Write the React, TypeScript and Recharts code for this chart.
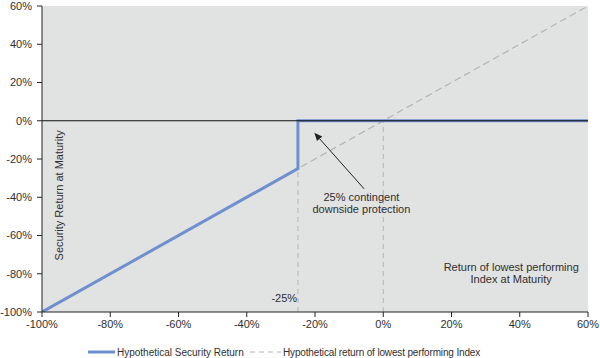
import React from 'react';
import { LineChart, Line, XAxis, YAxis, CartesianGrid, ReferenceLine, ReferenceDot } from 'recharts';

const axisTicks = [-100, -80, -60, -40, -20, 0, 20, 40, 60];

const securityReturn = [
  { x: -100, y: -100 },
  { x: -25, y: -25 },
  { x: -25, y: 0 },
  { x: 60, y: 0 },
];

const indexReturn = [
  { x: -100, y: -100 },
  { x: 60, y: 60 },
];

const barrierLevels = [-25, 0];

const seriesNames = ['Hypothetical Security Return', 'Hypothetical return of lowest performing Index'];

const FONT = '"Liberation Sans", Arial, sans-serif';
const BLUE = '#6f8fcf';
const GREY_DASH = '#b4b4b4';
const TEXT = '#303030';

const fmt = (v: number) => `${v}%`;

const TextShape = (lines: string[], opts: { rotate?: boolean; anchor?: string } = {}) => (p: any) => (
  <text
    x={p.cx}
    y={p.cy}
    textAnchor={opts.anchor || 'middle'}
    fontFamily={FONT}
    fontSize={11}
    fill={TEXT}
    transform={opts.rotate ? `rotate(-90 ${p.cx} ${p.cy})` : undefined}
  >
    {lines.map((l, i) => (
      <tspan key={i} x={p.cx} dy={i === 0 ? 0 : 12}>{l}</tspan>
    ))}
  </text>
);

const Arrow = (p: any) => {
  const { x1, y1, x2, y2 } = p;
  const ang = Math.atan2(y2 - y1, x2 - x1);
  const len = 8;
  const w = 3.5;
  const bx = x2 - len * Math.cos(ang);
  const by = y2 - len * Math.sin(ang);
  const nx = -Math.sin(ang) * w;
  const ny = Math.cos(ang) * w;
  return (
    <g>
      <line x1={x1} y1={y1} x2={bx} y2={by} stroke="#222" strokeWidth={1} />
      <polygon points={`${x2},${y2} ${bx + nx},${by + ny} ${bx - nx},${by - ny}`} fill="#222" />
    </g>
  );
};

export default function App() {
  return (
    <div style={{ position: 'absolute', left: 0, top: 0, width: 600, height: 358, background: '#fff' }}>
      <LineChart width={600} height={358} margin={{ top: 6, right: 12, left: 0, bottom: 26 }}>
        <CartesianGrid horizontal={false} vertical={false} fill="#e1e2e2" />
        <XAxis
          type="number"
          dataKey="x"
          domain={[-100, 60]}
          ticks={axisTicks}
          tickFormatter={fmt}
          height={20}
          tickSize={5}
          tickMargin={3}
          stroke="#222"
          tick={{ fill: TEXT, fontSize: 11, fontFamily: FONT }}
          allowDataOverflow
        />
        <YAxis
          type="number"
          dataKey="y"
          domain={[-100, 60]}
          ticks={axisTicks}
          tickFormatter={fmt}
          width={42}
          tickSize={5}
          tickMargin={5}
          stroke="#222"
          tick={{ fill: TEXT, fontSize: 11, fontFamily: FONT }}
          allowDataOverflow
        />
        {barrierLevels.map((b) => (
          <ReferenceLine
            key={b}
            segment={[{ x: b, y: -100 }, { x: b, y: 0 }]}
            stroke={GREY_DASH}
            strokeDasharray="5 4"
            strokeWidth={1}
          />
        ))}
        <Line
          data={indexReturn}
          dataKey="y"
          type="linear"
          stroke={GREY_DASH}
          strokeWidth={1.2}
          strokeDasharray="7 4"
          dot={false}
          isAnimationActive={false}
        />
        <Line
          data={securityReturn}
          dataKey="y"
          type="linear"
          stroke={BLUE}
          strokeWidth={3}
          dot={false}
          isAnimationActive={false}
        />
        <ReferenceLine y={0} stroke="#111" strokeWidth={1.2} />
        <ReferenceLine segment={[{ x: -5.6, y: -35.6 }, { x: -20.2, y: -6.3 }]} shape={Arrow} />
        <ReferenceDot x={-6.4} y={-42} r={0} shape={TextShape(['25% contingent', 'downside protection'])} />
        <ReferenceDot x={-29} y={-95} r={0} shape={TextShape(['-25%'])} />
        <ReferenceDot x={37.5} y={-78.5} r={0} shape={TextShape(['Return of lowest performing', 'Index at Maturity'])} />
        <ReferenceDot x={-93.8} y={-39} r={0} shape={TextShape(['Security Return at Maturity'], { rotate: true })} />
      </LineChart>
      <svg width={600} height={20} style={{ position: 'absolute', left: 0, top: 342 }}>
        <line x1={88} y1={10} x2={115} y2={10} stroke={BLUE} strokeWidth={3} />
        <text x={117} y={14} fontFamily={FONT} fontSize={10} fill={TEXT}>{seriesNames[0]}</text>
        <line x1={250} y1={10} x2={281} y2={10} stroke={GREY_DASH} strokeWidth={1.2} strokeDasharray="5 4" />
        <text x={283} y={14} fontFamily={FONT} fontSize={10} fill={TEXT} letterSpacing={-0.15}>{seriesNames[1]}</text>
      </svg>
    </div>
  );
}
